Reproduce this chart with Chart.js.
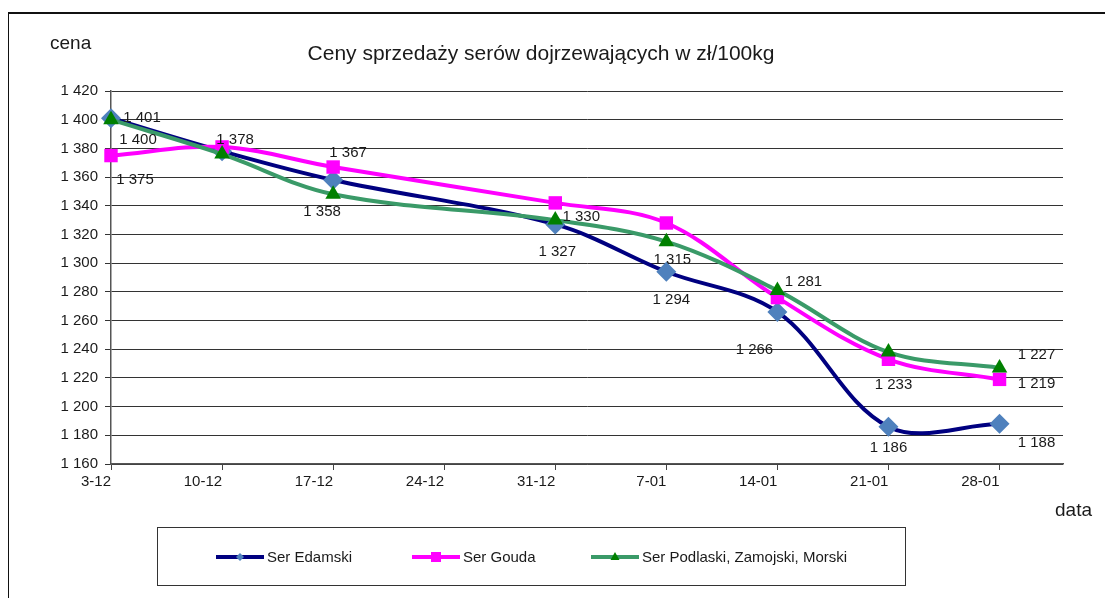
<!DOCTYPE html>
<html lang="pl">
<head>
<meta charset="UTF-8">
<title>Ceny sprzedaży serów dojrzewających</title>
<script src="https://cdn.jsdelivr.net/npm/chart.js"></script>
<style>
    body, html {
        margin: 0;
        padding: 0;
        background: #fff;
        font-family: "Liberation Sans", Arial, sans-serif;
        color: #1a1a1a;
    }
    .wrap {
        position: relative;
        width: 1105px;
        height: 598px;
        overflow: hidden;
    }
    .frame {
        position: absolute;
        left: 8px;
        top: 12px;
        width: 1200px;
        height: 700px;
        border-left: 1.5px solid #111;
        border-top: 2px solid #111;
    }
    canvas {
        position: absolute;
        left: 0;
        top: 0;
    }
    .title {
        position: absolute;
        left: 0;
        width: 1082px;
        top: 41px;
        text-align: center;
        font-size: 21px;
    }
    .ylab {
        position: absolute;
        left: 50px;
        top: 32px;
        font-size: 19px;
    }
    .xlab {
        position: absolute;
        left: 1055px;
        top: 499px;
        font-size: 19px;
    }
    .legend {
        position: absolute;
        left: 157px;
        top: 527px;
        width: 749px;
        height: 59px;
        border: 1.5px solid #333;
        box-sizing: border-box;
    }
    .legend .item {
        position: absolute;
        top: 20px;
        display: flex;
        align-items: center;
        font-size: 15px;
        white-space: nowrap;
    }
    .legend svg {
        margin-right: 3px;
    }
</style>
</head>
<body>
<div class="wrap">
    <div class="frame"></div>
    <canvas id="priceChart" width="1105" height="598"></canvas>
    <div class="title">Ceny sprzedaży serów dojrzewających w zł/100kg</div>
    <div class="ylab">cena</div>
    <div class="xlab">data</div>
    <div class="legend" id="legend"></div>
</div>

<script>
    // weeks (category labels on the x axis)
    const categories = ['3-12', '10-12', '17-12', '24-12', '31-12', '7-01', '14-01', '21-01', '28-01'];
    const seriesNames = ['Ser Edamski', 'Ser Gouda', 'Ser Podlaski, Zamojski, Morski'];

    // prices in zł/100kg, no quote for 24-12
    const edamski  = [1401, 1378, 1358, null, 1327, 1294, 1266, 1186, 1188];
    const gouda    = [1375, 1381, 1367, null, 1342, 1328, 1276, 1233, 1219];
    const podlaski = [1400, 1376, 1348, null, 1330, 1315, 1281, 1238, 1227];

    // y axis range and step
    const yMin = 1160;
    const yMax = 1420;
    const yStep = 20;

    function fmt(v) {
        return String(v).replace(/\B(?=(\d{3})+(?!\d))/g, ' ');
    }

    // where the value labels sit relative to their point (only labelled points listed)
    const labelShift = [
        {0: [31, 0], 1: [13, -11], 2: [-11, 32], 4: [2, 27], 5: [5, 28], 6: [-23, 38], 7: [0, 21], 8: [37, 19]},
        {0: [24, 24], 2: [15, -14], 7: [5, 26], 8: [37, 5]},
        {0: [27, 20], 4: [26, -3], 5: [6, 18], 6: [26, -9], 8: [37, -13]}
    ];

    const valueLabels = {
        id: 'valueLabels',
        afterDatasetsDraw(chart) {
            const ctx = chart.ctx;
            ctx.save();
            ctx.font = '15px "Liberation Sans", Arial, sans-serif';
            ctx.fillStyle = '#1a1a1a';
            ctx.textAlign = 'center';
            ctx.textBaseline = 'middle';
            chart.data.datasets.forEach((ds, di) => {
                const meta = chart.getDatasetMeta(di);
                Object.keys(labelShift[di]).forEach(k => {
                    const pt = meta.data[k];
                    const v = ds.data[k].y;
                    const s = labelShift[di][k];
                    ctx.fillText(fmt(v), pt.x + s[0], pt.y + s[1]);
                });
            });
            ctx.restore();
        }
    };

    function toPoints(arr) {
        return arr.map((v, i) => ({x: i, y: v}));
    }

    const styles = [
        {line: '#000080', fill: '#4f81bd', point: 'rectRot', r: 10, order: 3},
        {line: '#ff00ff', fill: '#ff00ff', point: 'rect', r: 9.5, order: 2},
        {line: '#3a9a68', fill: '#008000', point: 'triangle', r: 9, order: 1}
    ];
    const values = [edamski, gouda, podlaski];

    const ctx = document.getElementById('priceChart').getContext('2d');
    const priceChart = new Chart(ctx, {
        type: 'line',
        data: {
            datasets: values.map((arr, i) => ({
                label: seriesNames[i],
                data: toPoints(arr),
                borderColor: styles[i].line,
                borderWidth: 4,
                backgroundColor: styles[i].fill,
                pointStyle: styles[i].point,
                pointRadius: styles[i].r,
                pointBorderWidth: 0,
                pointBackgroundColor: styles[i].fill,
                pointBorderColor: styles[i].fill,
                tension: 0.35,
                spanGaps: true,
                clip: false,
                order: styles[i].order
            }))
        },
        options: {
            responsive: false,
            animation: false,
            layout: {
                padding: {left: 51, right: 42, top: 91, bottom: 104}
            },
            plugins: {
                legend: {display: false},
                title: {display: false},
                tooltip: {enabled: false}
            },
            scales: {
                x: {
                    type: 'linear',
                    min: 0,
                    max: 60 / 7,
                    afterFit(scale) { scale.height = 30; },
                    grid: {
                        drawOnChartArea: false,
                        drawTicks: true,
                        tickLength: 6,
                        color: '#444'
                    },
                    border: {color: '#555', width: 1.5},
                    ticks: {
                        stepSize: 1,
                        includeBounds: false,
                        autoSkip: false,
                        maxRotation: 0,
                        align: 'end',
                        padding: 3,
                        color: '#1a1a1a',
                        font: {family: '"Liberation Sans", Arial, sans-serif', size: 15},
                        callback: (v) => categories[v] !== undefined ? categories[v] : ''
                    }
                },
                y: {
                    min: yMin,
                    max: yMax,
                    afterFit(scale) { scale.width = 60; },
                    grid: {
                        color: '#333',
                        lineWidth: 1,
                        tickLength: 6
                    },
                    border: {color: '#555', width: 1.5},
                    ticks: {
                        stepSize: yStep,
                        padding: 7,
                        color: '#1a1a1a',
                        font: {family: '"Liberation Sans", Arial, sans-serif', size: 15},
                        callback: (v) => fmt(v)
                    }
                }
            }
        },
        plugins: [valueLabels]
    });

    // legend: line with marker in the middle, then the series name
    const legendPos = [215, 411, 590];
    function swatch(st) {
        let mark = '';
        if (st.point === 'rectRot') {
            mark = '<polygon points="24,3 28,7 24,11 20,7" fill="' + st.fill + '"/>';
        } else if (st.point === 'rect') {
            mark = '<rect x="19" y="2" width="10" height="10" fill="' + st.fill + '"/>';
        } else {
            mark = '<polygon points="24,2 28.5,10 19.5,10" fill="' + st.fill + '"/>';
        }
        return '<svg width="48" height="14" viewBox="0 0 48 14">' +
            '<line x1="0" y1="7" x2="48" y2="7" stroke="' + st.line + '" stroke-width="4"/>' + mark + '</svg>';
    }
    const legendEl = document.getElementById('legend');
    seriesNames.forEach((name, i) => {
        const item = document.createElement('div');
        item.className = 'item';
        item.style.left = (legendPos[i] - 157) + 'px';
        item.innerHTML = swatch(styles[i]) + '<span>' + name + '</span>';
        legendEl.appendChild(item);
    });
</script>
</body>
</html>
